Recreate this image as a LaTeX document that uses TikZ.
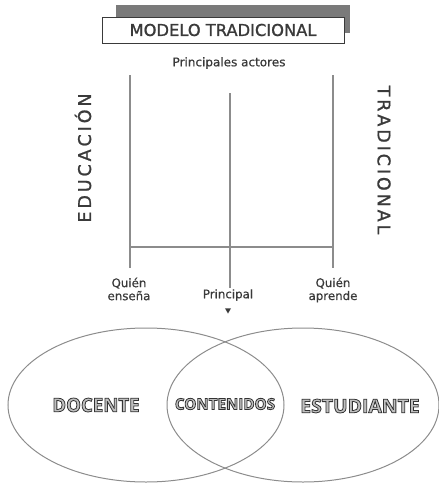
\documentclass[tikz,border=0pt]{standalone}
\usepackage{fontspec}
\setmainfont{DejaVu Sans}
\newfontfamily\cabecera[FakeBold=1.2]{DejaVu Sans}
\newfontfamily\rotulos[FakeBold=0.6]{DejaVu Sans}
\newfontfamily\gruesa{Open Sans}
\usetikzlibrary{shapes.geometric}
\definecolor{texto}{HTML}{3A3A3A}
\definecolor{linea}{HTML}{8C8C8C}
\tikzset{
	eje/.style={line width=1.3pt, color=linea},
	rotulo/.style={font=\rotulos\fontsize{11.8}{13}\selectfont, text=texto, align=center, inner sep=0pt},
	circulo/.style={draw=linea, line width=1pt, ellipse, inner sep=0pt},
	hueco/.style={font=\gruesa\fontsize{#1}{#1}\selectfont\bfseries, text=black!25, inner sep=0pt},
}
\newcommand{\hueca}[1]{\special{pdf:literal direct 2 Tr 0.8 w 0.2 G}#1\special{pdf:literal direct 0 Tr}}

\begin{document}
\begin{tikzpicture}[x=1pt, y=-1pt]
		%%%%% START %%%%%
		\useasboundingbox (0, 0) rectangle (439, 483);
		
		\fill[color=black!52] (116, 5) rectangle (350, 33);
		\node[draw=texto, fill=white, line width=1pt, minimum width=242pt, minimum height=26pt, inner sep=0pt,
			font=\cabecera\fontsize{16.3}{17}\selectfont, text=texto] (titulo) at (223, 30) {MODELO TRADICIONAL};
		\node[rotulo, font=\rotulos\fontsize{12}{13}\selectfont] (actores) at (229, 63) {Principales actores};
		
		\coordinate (izqA) at (130, 75);
		\coordinate (izqM) at (130, 247);
		\coordinate (izqB) at (130, 268);
		\coordinate (cenA) at (230, 93);
		\coordinate (cenB) at (230, 288);
		\coordinate (derA) at (333, 75);
		\coordinate (derM) at (333, 247);
		\coordinate (derB) at (333, 268);
		
		\draw[eje] (izqA) -- (izqB);
		\draw[eje] (cenA) -- (cenB);
		\draw[eje] (derA) -- (derB);
		\draw[eje] (izqM) -- (derM);
		
		\node[rotate=90, font=\cabecera\fontsize{17.5}{18}\selectfont, text=texto] (educacion) at (83, 158)
			{E\,D\,U\,C\,A\,C\,I\,Ó\,N};
		\node[rotate=-90, font=\cabecera\fontsize{17.5}{18}\selectfont, text=texto] (tradicional) at (384, 160)
			{T\,R\,A\,D\,I\,C\,I\,O\,N\,A\,L};
		
		\node[rotulo] (ensena) at (129, 289) {Quién\\enseña};
		\node[rotulo] (principal) at (228, 295) {Principal};
		\node[rotulo] (aprende) at (333, 290) {Quién\\aprende};
		\node[regular polygon, regular polygon sides=3, shape border rotate=180, fill=texto, inner sep=0pt,
			minimum size=7pt] (punta) at (228, 310) {};
		
		\node[circulo, minimum width=276pt, minimum height=154pt] (docente) at (146, 405) {};
		\node[circulo, minimum width=272pt, minimum height=154pt] (estudiante) at (303, 405) {};
		
		\node[hueco=19] (tdocente) at (96, 405) {\scalebox{0.98}[1]{\hueca{DOCENTE}}};
		\node[hueco=15.5] (tcontenidos) at (225, 404) {\scalebox{0.98}[1]{\hueca{CONTENIDOS}}};
		\node[hueco=19] (testudiante) at (360, 406) {\scalebox{1.02}[1]{\hueca{ESTUDIANTE}}};
		
		%%%%% END %%%%%
	\end{tikzpicture}
\end{document}
